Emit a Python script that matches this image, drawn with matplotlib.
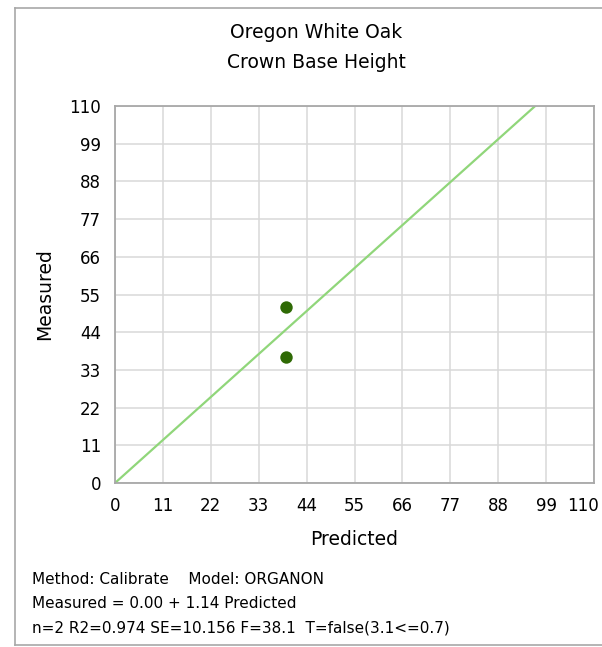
import matplotlib
matplotlib.use("Agg")
import matplotlib.pyplot as plt
from matplotlib.lines import Line2D
import matplotlib.transforms as mtransforms
import numpy as np

# Data
predicted = [39.2, 39.2]
measured = [51.4, 36.9]
intercept = 0.00
slope = 1.14
ticks = [0, 11, 22, 33, 44, 55, 66, 77, 88, 99, 110]
title_lines = ["Oregon White Oak", "Crown Base Height"]
x_label = "Predicted"
y_label = "Measured"
footer = ["Method: Calibrate    Model: ORGANON",
          "Measured = 0.00 + 1.14 Predicted",
          "n=2 R2=0.974 SE=10.156 F=38.1  T=false(3.1<=0.7)"]

plt.rcParams['font.family'] = ['DejaVu Sans']
W, H = 602, 647
fig = plt.figure(figsize=(W / 100, H / 100), dpi=100)
fig.patch.set_facecolor("white")

ax = fig.add_axes([115 / W, 1 - 483 / H, (594 - 115) / W, (483 - 106) / H])
ax.set_xlim(0, 110)
ax.set_ylim(0, 110)
ax.set_xticks(ticks)
ax.set_yticks(ticks)
ax.tick_params(length=0, labelsize=12, pad=10, colors="#000000")
ax.grid(True, color="#d8d8d8", linewidth=1.1)
ax.set_axisbelow(True)
for s in ax.spines.values():
    s.set_color("#a8a8a8")
    s.set_linewidth(1.3)

# regression line
x_end = (110 - intercept) / slope
xs = np.array([0, x_end])
ax.plot(xs, intercept + slope * xs, color="#90d67a", linewidth=1.6, zorder=2)
ax.scatter(predicted, measured, s=80, color="#2f6a05", zorder=3, linewidths=0)

ax.set_xlabel(x_label, fontsize=13.5, labelpad=11)
ax.set_ylabel(y_label, fontsize=13.5, labelpad=11)

fig.canvas.draw()
last = ax.get_xticklabels()[-1]
last.set_transform(last.get_transform() + mtransforms.ScaledTranslation(-11 / 100, 0, fig.dpi_scale_trans))

fig.text(316 / W, 1 - 33 / H, title_lines[0], ha="center", va="center", fontsize=13.5)
fig.text(316 / W, 1 - 63 / H, title_lines[1], ha="center", va="center", fontsize=13.5)

for i, line in enumerate(footer):
    fig.text(32 / W, 1 - (580 + 24 * i) / H, line, ha="left", va="center", fontsize=11)

# outer frame
fc = "#a8a8a8"
fig.add_artist(Line2D([15 / W, 15 / W], [1 - 645 / H, 1 - 8 / H], color=fc, lw=1.2, transform=fig.transFigure))
fig.add_artist(Line2D([15 / W, 1], [1 - 8 / H, 1 - 8 / H], color=fc, lw=1.2, transform=fig.transFigure))
fig.add_artist(Line2D([15 / W, 1], [1 - 645 / H, 1 - 645 / H], color=fc, lw=1.2, transform=fig.transFigure))

fig.savefig("out.png", dpi=100)
